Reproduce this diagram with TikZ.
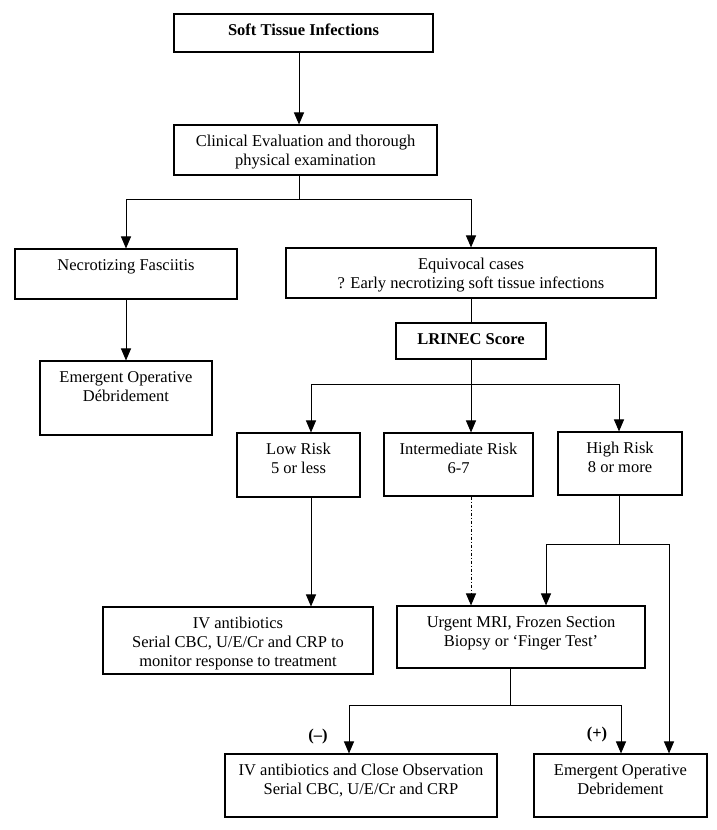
\documentclass[tikz,border=0pt]{standalone}
\usepackage{fontspec}
\setmainfont{Liberation Serif}
\usetikzlibrary{arrows.meta}
\tikzset{
  box/.style={draw, line width=1.1pt, inner sep=0pt, rectangle},
  txt/.style={font=\fontsize{16.5}{19}\selectfont, align=center, inner sep=0pt, anchor=north},
  arr/.style={line width=1pt, -{Triangle[length=12pt,width=10pt]}},
  ln/.style={line width=1pt},
  sgn/.style={font=\fontsize{16.5}{19}\selectfont\bfseries, inner sep=0pt},
}
\newcommand\flowbox[7][0]{% [xshift] name x1 y1 x2 y2 text
  \pgfmathsetmacro\bw{#5-#3}\pgfmathsetmacro\bh{#6-#4}%
  \pgfmathsetmacro\bx{(#3+#5)/2}\pgfmathsetmacro\by{-(#4+#6)/2}%
  \node[box, minimum width=\bw pt, minimum height=\bh pt] (#2) at (\bx,\by) {};
  \node[txt] (#2t) at ([xshift=#1pt,yshift=-10.5pt]#2.north) {#7};
}
\begin{document}
\begin{tikzpicture}[x=1pt,y=1pt]
\useasboundingbox (0,0) rectangle (716,-830);
\flowbox{soft}{174}{14}{433}{52}{\textbf{Soft Tissue Infections}}
\flowbox{clin}{174}{125}{437}{175}{Clinical Evaluation and thorough\\physical examination}
\flowbox{necro}{15}{249}{237}{299}{Necrotizing Fasciitis}
\flowbox{equiv}{286}{248}{656}{298}{Equivocal cases\\? Early necrotizing soft tissue infections}
\flowbox{lrinec}{396}{323}{546}{359}{\textbf{LRINEC Score}}
\flowbox{emA}{40}{361}{212}{435}{Emergent Operative\\Débridement}
\flowbox{low}{237}{433}{360}{497}{Low Risk\\5 or less}
\flowbox{inter}{384}{433}{533}{496}{Intermediate Risk\\6-7}
\flowbox{high}{558}{432}{682}{495}{High Risk\\8 or more}
\flowbox{ivA}{103}{607}{373}{674}{IV antibiotics\\Serial CBC, U/E/Cr and CRP to\\monitor response to treatment}
\flowbox{urg}{397}{606}{645}{668}{Urgent MRI, Frozen Section\\Biopsy or ‘Finger Test’}
\flowbox{ivB}{225}{754}{497}{817}{IV antibiotics and Close Observation\\Serial CBC, U/E/Cr and CRP}
\flowbox{emB}{534}{754}{707}{817}{Emergent Operative\\Debridement}

\coordinate (j1) at (299,-199);
\coordinate (j2) at (471,-384);
\coordinate (j3) at (619,-544);
\coordinate (j4) at (510,-705);
\coordinate (xL) at (311,0);
\coordinate (xU) at (546,0);
\coordinate (xR) at (669,0);
\coordinate (xN) at (349,0);
\coordinate (xP) at (621,0);

\draw[arr] (soft.south -| j1) -- (clin.north -| j1);
\draw[ln] (clin.south -| j1) -- (j1);
\draw[arr] (j1) -| (necro.north);
\draw[arr] (j1) -| (equiv.north);
\draw[arr] (necro.south) -- (emA.north);
\draw[ln] (equiv.south) -- (lrinec.north);
\draw[ln] (lrinec.south) -- (j2);
\draw[arr] (j2) -| (low.north -| xL);
\draw[arr] (j2) -- (inter.north -| j2);
\draw[arr] (j2) -| (high.north -| j3);
\draw[arr] (low.south -| xL) -- (ivA.north -| xL);
\draw[arr, dash dot] (inter.south -| j2) -- (urg.north -| j2);
\draw[ln] (high.south -| j3) -- (j3);
\draw[arr] (j3) -| (urg.north -| xU);
\draw[arr] (j3) -| (emB.north -| xR);
\draw[ln] (urg.south -| j4) -- (j4);
\draw[arr] (j4) -| (ivB.north -| xN);
\draw[arr] (j4) -| (emB.north -| xP);
\node[sgn] (neg) at (318,-737) {(–)};
\node[sgn] (pos) at (597,-735) {(+)};
\end{tikzpicture}
\end{document}
